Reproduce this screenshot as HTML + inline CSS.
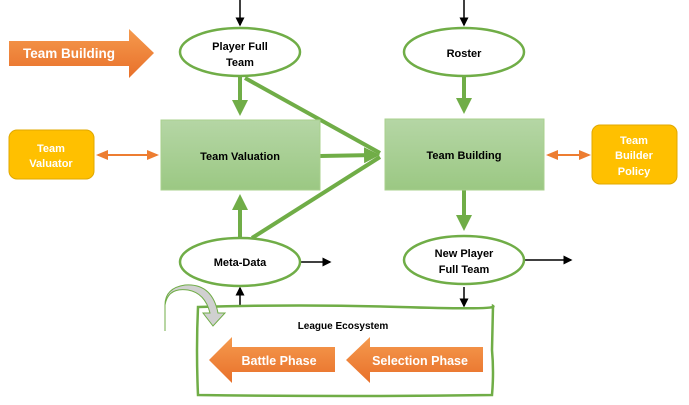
<!DOCTYPE html>
<html><head><meta charset="utf-8"><style>
html,body{margin:0;padding:0;background:#fff;}
svg{display:block;font-family:"Liberation Sans",sans-serif;font-weight:bold;}
</style></head><body>
<svg width="689" height="405" viewBox="0 0 689 405" xmlns="http://www.w3.org/2000/svg">
<defs>
<linearGradient id="gr" x1="0" y1="0" x2="0" y2="1"><stop offset="0" stop-color="#b5d6a5"/><stop offset="1" stop-color="#9bc883"/></linearGradient>
<linearGradient id="or" x1="0" y1="0" x2="0" y2="1"><stop offset="0" stop-color="#f59a4e"/><stop offset="1" stop-color="#e8702a"/></linearGradient>
<marker id="ab" markerWidth="6" markerHeight="6" refX="5" refY="3" orient="auto"><path d="M0,0L6,3L0,6z" fill="#000"/></marker>
<marker id="ag" markerWidth="4" markerHeight="4" refX="3" refY="2" orient="auto"><path d="M0,0L4,2L0,4z" fill="#70ad47"/></marker>
<marker id="ao" markerWidth="6" markerHeight="6" refX="5" refY="3" orient="auto"><path d="M0,0.5L6,3L0,5.5z" fill="#ed7d31"/></marker>
<marker id="aos" markerWidth="6" markerHeight="6" refX="1" refY="3" orient="auto"><path d="M6,0.5L0,3L6,5.5z" fill="#ed7d31"/></marker>
</defs>
<g stroke="#000" stroke-width="1.5" fill="none">
<line x1="240" y1="0" x2="240" y2="25" marker-end="url(#ab)"/>
<line x1="464" y1="0" x2="464" y2="25" marker-end="url(#ab)"/>
<line x1="300" y1="262" x2="330" y2="262" marker-end="url(#ab)"/>
<line x1="524" y1="260" x2="571" y2="260" marker-end="url(#ab)"/>
<line x1="240" y1="306" x2="240" y2="288" marker-end="url(#ab)"/>
<line x1="464" y1="287" x2="464" y2="306" marker-end="url(#ab)"/>
</g>
<g stroke="#70ad47" stroke-width="4" fill="none">
<line x1="240" y1="77" x2="240" y2="112" marker-end="url(#ag)"/>
<line x1="464" y1="77" x2="464" y2="110" marker-end="url(#ag)"/>
<line x1="464" y1="190" x2="464" y2="227" marker-end="url(#ag)"/>
<line x1="240" y1="237" x2="240" y2="198" marker-end="url(#ag)"/>
<line x1="245" y1="78" x2="380" y2="153"/>
<line x1="320" y1="156" x2="376" y2="155" marker-end="url(#ag)"/>
<line x1="252" y1="238" x2="380" y2="157"/>
</g>
<g stroke="#ed7d31" stroke-width="2">
<line x1="98" y1="155" x2="157" y2="155" marker-start="url(#aos)" marker-end="url(#ao)"/>
<line x1="548" y1="155" x2="589" y2="155" marker-start="url(#aos)" marker-end="url(#ao)"/>
</g>
<g fill="#fff" stroke="#70ad47" stroke-width="2.5">
<ellipse cx="240" cy="52" rx="60" ry="24"/>
<ellipse cx="464" cy="52" rx="60" ry="24"/>
<ellipse cx="240" cy="262" rx="60" ry="24"/>
<ellipse cx="464" cy="260" rx="60" ry="24"/>
</g>
<g font-size="11" text-anchor="middle" fill="#000">
<text x="240" y="50">Player Full</text><text x="240" y="66">Team</text>
<text x="464" y="57">Roster</text>
<text x="240" y="266">Meta-Data</text>
<text x="464" y="257">New Player</text><text x="464" y="273">Full Team</text>
</g>
<rect x="161" y="120" width="159" height="70" fill="url(#gr)" stroke="#a9d08e" stroke-width="1"/>
<rect x="385" y="119" width="159" height="71" fill="url(#gr)" stroke="#a9d08e" stroke-width="1"/>
<text x="240" y="160" font-size="11" text-anchor="middle">Team Valuation</text>
<text x="464" y="159" font-size="11" text-anchor="middle">Team Building</text>
<rect x="9" y="130" width="85" height="49" rx="8" fill="#ffc000" stroke="#e0a800"/>
<rect x="592" y="125" width="85" height="59" rx="8" fill="#ffc000" stroke="#e0a800"/>
<g fill="#fff" font-size="11" text-anchor="middle">
<text x="51" y="152">Team</text><text x="51" y="167">Valuator</text>
<text x="634" y="144">Team</text><text x="634" y="159">Builder</text><text x="634" y="175">Policy</text>
</g>
<path d="M9,41 L129,41 L129,29 L154,53 L129,78 L129,66 L9,66z" fill="url(#or)"/>
<text x="69" y="58" font-size="13.5" fill="#fff" text-anchor="middle">Team Building</text>
<path d="M198,307 Q300,304 400,307 T493,306 L492,350 Q494,372 492,395 Q350,397 198,395 Q196,350 198,307z" fill="#fff" stroke="#70ad47" stroke-width="2.5"/>
<text x="343" y="329" font-size="10" text-anchor="middle">League Ecosystem</text>
<path d="M335,347 L232,347 L232,337 L209,360 L232,383 L232,372 L335,372z" fill="url(#or)"/>
<path d="M483,347 L370,347 L370,337 L346,360 L370,383 L370,372 L483,372z" fill="url(#or)"/>
<g fill="#fff" font-size="12.5" text-anchor="middle">
<text x="279" y="365">Battle Phase</text><text x="420" y="365">Selection Phase</text>
</g>
<path d="M165,331 L165,305 Q168,287 188,290 Q205,293 210,313 L203,313 L213,326 L225,313 L218,313 Q212,283 185,285 Q165,288 165,305" fill="#d0d0d0" stroke="#70ad47" stroke-width="1"/>
</svg>
</body></html>
